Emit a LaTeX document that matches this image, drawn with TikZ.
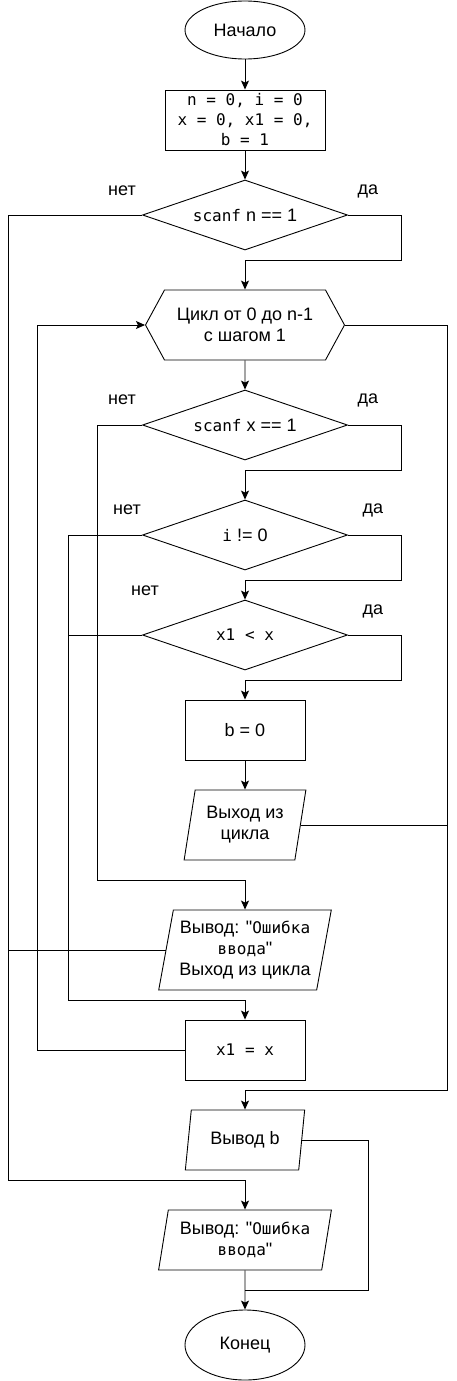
\documentclass[tikz,border=0pt]{standalone}
\usepackage{fontspec}
\setmainfont{Liberation Sans}
\setsansfont{Liberation Sans}
\setmonofont{DejaVu Sans Mono}
\usepackage{tikz}
\usetikzlibrary{arrows.meta,shapes.geometric,shapes.symbols}
\newcommand\cd[1]{{\ttfamily\fontsize{16}{20}\selectfont #1}}

\begin{document}
\begin{tikzpicture}[x=1pt,y=-1pt,
  every node/.style={font=\fontsize{18}{21}\selectfont,align=center,inner sep=0pt},
  termin/.style={ellipse,draw,line width=0.9pt,minimum width=120pt,minimum height=58pt},
  actbox/.style={rectangle,draw,line width=0.9pt,minimum width=120pt,minimum height=60pt},
  askbox/.style={diamond,draw,line width=0.9pt,aspect=2.9,minimum width=205pt,minimum height=70pt},
  iobox/.style={trapezium,trapezium left angle=77,trapezium right angle=103,trapezium stretches=true,draw,line width=0.9pt},
  loopbox/.style={signal,signal to=west and east,signal pointer angle=123,draw,line width=0.9pt,minimum width=199pt,minimum height=70pt},
  flow/.style={-{Stealth[length=9pt,width=8pt,inset=2pt]},line width=0.9pt},
  wire/.style={line width=0.9pt}]
\useasboundingbox (0,0) rectangle (456,1381);
\coordinate (railno) at (8,0);
\coordinate (railback) at (37,0);
\coordinate (raili) at (68,0);
\coordinate (railx) at (97,0);
\coordinate (railout) at (447,0);

\node[termin] (start) at (245,30) {Начало};
\node[actbox,minimum width=160pt,font=\ttfamily\fontsize{16}{20}\selectfont] (init) at (245,120) {n = 0, i = 0\\x = 0, x1 = 0,\\b = 1};
\node[askbox] (askn) at (245,215) {\cd{scanf} n == 1};
\node[loopbox] (loop) at (245,325) {Цикл от 0 до n-1\\с шагом 1};
\node[askbox] (askx) at (245,425) {\cd{scanf} x == 1};
\node[askbox] (aski) at (245,535) {\cd{i} != 0};
\node[askbox] (askless) at (245,635) {\cd{x1 < x}};
\node[actbox] (bzero) at (245,730) {b = 0};
\node[iobox,minimum width=122pt,minimum height=70pt] (quit) at (245,825) {Выход из\\цикла};
\node[iobox,minimum width=173pt,minimum height=80pt] (err) at (245,950) {Вывод: \textquotedbl\cd{Ошибка}\\\cd{ввода}\textquotedbl\\Выход из цикла};
\node[actbox] (setx) at (245,1050) {\cd{x1 = x}};
\node[iobox,minimum width=120pt,minimum height=60pt] (outb) at (245,1140) {Вывод b};
\node[iobox,minimum width=173pt,minimum height=60pt] (errtwo) at (245,1240) {Вывод: \textquotedbl\cd{Ошибка}\\\cd{ввода}\textquotedbl};
\node[termin,minimum height=70pt] (finish) at (245,1345) {Конец};

\node (nonA) at (122,191) {нет};
\node (yesA) at (368,191) {да};
\node (nonB) at (122,400) {нет};
\node (yesB) at (368,400) {да};
\node (nonC) at (127,510) {нет};
\node (yesC) at (373,510) {да};
\node (nonD) at (145,591) {нет};
\node (yesD) at (373,611) {да};

\draw[flow] (start) -- (init);
\draw[flow] (init) -- (askn);
\draw[flow] (askn.east) -| (401,260) -| (loop.north);
\draw[flow] (askn.west) -| (railno |- 0,1180) -| (errtwo.north);
\draw[flow] (loop) -- (askx);
\draw[flow] (loop.east) -| (railout |- 0,1090) -| (outb.north);
\draw[flow] (askx.west) -| (railx |- 0,880) -| (err.north);
\draw[flow] (askx.east) -| (401,470) -| (aski.north);
\draw[flow] (aski.west) -| (raili |- 0,1000) -| (setx.north);
\draw[flow] (aski.east) -| (401,580) -| (askless.north);
\draw[wire] (askless.west) -- (askless.west -| raili);
\draw[flow] (askless.east) -| (401,680) -| (bzero.north);
\draw[flow] (bzero) -- (quit);
\draw[wire] (quit.east) -- (quit.east -| railout);
\draw[wire] (err.west) -- (err.west -| railno);
\draw[flow] (setx.west) -| (railback |- loop.west) -- (loop.west);
\draw[wire] (outb.east) -| (368,1290) -- (finish.north |- 0,1290);
\draw[flow] (errtwo) -- (finish);
\end{tikzpicture}
\end{document}
